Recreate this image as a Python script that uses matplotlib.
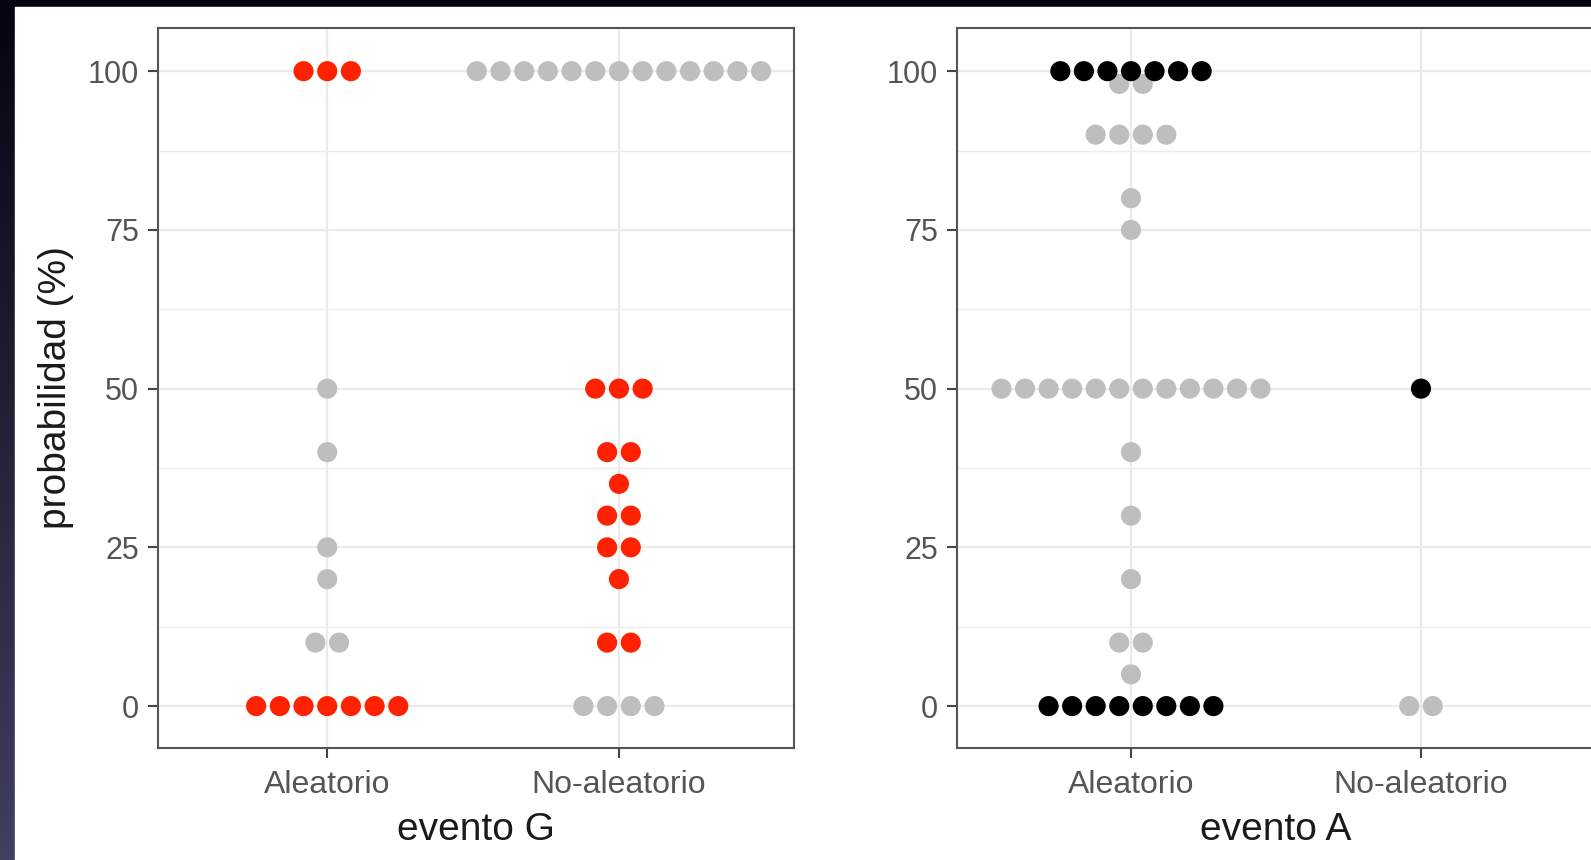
import numpy as np
import matplotlib.pyplot as plt
from matplotlib.patches import Rectangle

plt.rcParams['font.family'] = ['Liberation Sans', 'DejaVu Sans']

categorias = ['Aleatorio', 'No-aleatorio']
ticks_y = [0, 25, 50, 75, 100]
minor_y = [12.5, 37.5, 62.5, 87.5]

# evento G (gris = todas las respuestas, rojo = destacadas)
g_gris_valores = [[50, 40, 25, 20, 10], [100, 0]]
g_gris_conteos = [[1, 1, 1, 1, 2], [13, 4]]
g_color_valores = [[100, 0], [50, 40, 35, 30, 25, 20, 10]]
g_color_conteos = [[3, 7], [3, 2, 1, 2, 2, 1, 2]]

# evento A (gris = todas las respuestas, negro = destacadas)
a_gris_valores = [[98, 90, 80, 75, 50, 40, 30, 20, 10, 5], [0]]
a_gris_conteos = [[2, 4, 1, 1, 12, 1, 1, 1, 2, 1], [2]]
a_color_valores = [[100, 0], [50]]
a_color_conteos = [[7, 8], [1]]

gris = '#bebebe'
rojo = '#ff2200'
negro = '#000000'


def apilar(valores, conteos, paso=0.0812):
    # apila los puntos de cada valor centrados en su categoria
    xs, ys = [], []
    for i, (vals, cnts) in enumerate(zip(valores, conteos)):
        for v, n in zip(vals, cnts):
            off = (np.arange(n) - (n - 1) / 2) * paso
            xs.extend(i + 1 + off)
            ys.extend([v] * n)
    return xs, ys


def estilo(ax, titulo_x, xmin):
    ax.set_xlim(xmin, 2.6)
    ax.set_ylim(-6.6, 106.8)
    ax.set_xticks([1, 2])
    ax.set_xticklabels(categorias)
    ax.set_yticks(ticks_y)
    ax.set_yticks(minor_y, minor=True)
    ax.grid(True, which='major', color='#ebebeb', lw=1.6, zorder=0)
    ax.grid(True, which='minor', axis='y', color='#ededed', lw=1.0, zorder=0)
    ax.set_axisbelow(True)
    ax.tick_params(axis='both', which='major', length=7.5, width=1.5, color='#444444',
                   labelcolor='#555555')
    ax.tick_params(axis='x', labelsize=23, pad=8)
    ax.tick_params(axis='y', labelsize=22, pad=6)
    ax.tick_params(which='minor', length=0)
    for s in ax.spines.values():
        s.set_color('#555555')
        s.set_linewidth(1.5)
    ax.set_xlabel(titulo_x, fontsize=28, color='#1a1a1a', labelpad=9)


fig = plt.figure(figsize=(15.91, 8.6), dpi=100)

# fondo oscuro de la diapositiva
fondo = fig.add_axes([0, 0, 1, 1], zorder=-10)
grad = np.linspace(0, 1, 256)[:, None]
c_top = np.array([4, 4, 16]) / 255
c_bot = np.array([64, 64, 96]) / 255
img = (c_top + (c_bot - c_top) * grad)[:, None, :] * np.ones((1, 2, 1))
fondo.imshow(img, aspect='auto', extent=[0, 1, 0, 1], origin='upper')
fondo.add_patch(Rectangle((15 / 1591, 0), 1, 1 - 7 / 860, color='white'))
fondo.set_xlim(0, 1)
fondo.set_ylim(0, 1)
fondo.axis('off')

ax1 = fig.add_axes([158 / 1591, 112 / 860, 636 / 1591, 720 / 860])
x, y = apilar(g_gris_valores, g_gris_conteos)
ax1.scatter(x, y, s=210, color=gris, edgecolors='none', zorder=3)
x, y = apilar(g_color_valores, g_color_conteos)
ax1.scatter(x, y, s=210, color=rojo, edgecolors='none', zorder=4)
estilo(ax1, 'evento G', 0.42)
ax1.set_ylabel('probabilidad (%)', fontsize=28, color='#1a1a1a', labelpad=10)

ax2 = fig.add_axes([957 / 1591, 112 / 860, 638 / 1591, 720 / 860])
x, y = apilar(a_gris_valores, a_gris_conteos)
ax2.scatter(x, y, s=210, color=gris, edgecolors='none', zorder=3)
x, y = apilar(a_color_valores, a_color_conteos)
ax2.scatter(x, y, s=210, color=negro, edgecolors='none', zorder=4)
estilo(ax2, 'evento A', 0.4)

fig.savefig('out.png', dpi=100)
